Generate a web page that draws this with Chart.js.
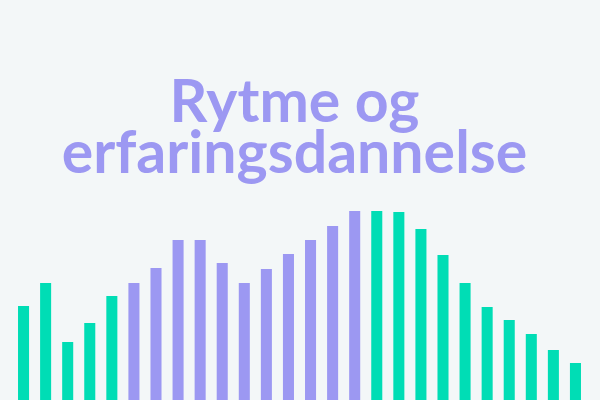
<!DOCTYPE html>
<html lang="no">
<head>
    <meta charset="UTF-8">
    <title>Rytme og erfaringsdannelse</title>
    <script src="https://cdn.jsdelivr.net/npm/chart.js"></script>
    <style>
        html, body { margin: 0; padding: 0; background: #f3f7f8; }
    </style>
</head>
<body>

<div style="width: 600px; height: 400px;">
    <canvas id="chart" width="600" height="400"></canvas>
</div>

<script>
    // Title lines
    const titleLines = ['Rytme og', 'erfaringsdannelse'];

    // One bar per step
    const labels = ['1', '2', '3', '4', '5', '6', '7', '8', '9', '10', '11', '12', '13',
                    '14', '15', '16', '17', '18', '19', '20', '21', '22', '23', '24', '25', '26'];
    const values = [94, 117, 58, 77, 104, 117, 132, 160, 160, 137, 117, 131, 146,
                    160, 174, 189, 189, 188, 171, 145, 117, 93, 80, 66, 50, 37];
    // Which phase each bar belongs to (a = green, b = purple)
    const phases = ['a', 'a', 'a', 'a', 'a', 'b', 'b', 'b', 'b', 'b', 'b', 'b', 'b',
                    'b', 'b', 'b', 'a', 'a', 'a', 'a', 'a', 'a', 'a', 'a', 'a', 'a'];

    const GREEN = '#00ddb5';
    const PURPLE = '#9c98f2';

    // Draws the big heading over the chart
    const headingPlugin = {
        id: 'heading',
        afterDraw(chart) {
            const ctx = chart.ctx;
            ctx.save();
            ctx.font = 'bold 59px Lato';
            ctx.fillStyle = PURPLE;
            ctx.textAlign = 'center';
            ctx.textBaseline = 'alphabetic';
            ctx.fillText(titleLines[0], 294.5, 122);
            ctx.fillText(titleLines[1], 294.5, 173);
            ctx.restore();
        }
    };

    const ctx = document.getElementById('chart').getContext('2d');
    new Chart(ctx, {
        type: 'bar',
        data: {
            labels: labels,
            datasets: [{
                data: values,
                backgroundColor: phases.map(p => p === 'a' ? GREEN : PURPLE),
                borderWidth: 0,
                barPercentage: 0.5,
                categoryPercentage: 1
            }]
        },
        options: {
            responsive: false,
            animation: false,
            layout: {
                padding: { left: 12.5, right: 13.5, top: 0, bottom: 0 }
            },
            scales: {
                x: { display: false },
                y: { display: false, min: 0, max: 400 }
            },
            plugins: {
                legend: { display: false },
                tooltip: { enabled: false }
            }
        },
        plugins: [headingPlugin]
    });
</script>
</body>
</html>
